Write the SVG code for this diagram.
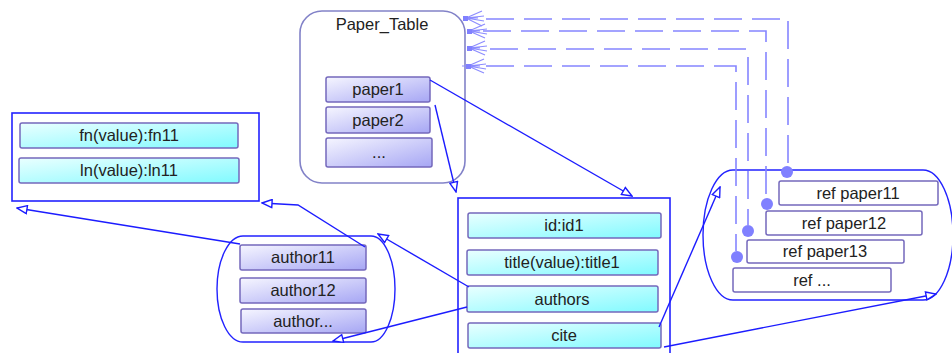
<svg xmlns="http://www.w3.org/2000/svg" width="952" height="353" viewBox="0 0 952 353">
<style>
text{font-family:"Liberation Sans",Arial,sans-serif;font-size:16.5px;fill:#222;text-anchor:middle}
.row{stroke:#7468bc;stroke-width:1.5}
.lav{fill:url(#gLav)}
.cy{fill:url(#gCy)}
.ref{fill:#fff;stroke:#7468bc;stroke-width:1.5}
.box{fill:#fff;stroke:#2222ff;stroke-width:1.6}
.blob{fill:none;stroke:#2222ff;stroke-width:1.4}
.con{fill:none;stroke:#1c1cff;stroke-width:1.4}
.dash{fill:none;stroke:#8585ff;stroke-width:1.6;stroke-dasharray:28 10}
.dot{fill:#8080ff}
.fan{stroke:#8c8cff;stroke-width:1.2;fill:none}
</style>
<defs>
<linearGradient id="gLav" x1="0" y1="0" x2="1" y2="1">
<stop offset="0" stop-color="#f6f6ff"/><stop offset="1" stop-color="#a6a6f4"/>
</linearGradient>
<linearGradient id="gCy" x1="0" y1="0" x2="1" y2="1">
<stop offset="0" stop-color="#eaffff"/><stop offset="1" stop-color="#80faff"/>
</linearGradient>
<marker id="tri" viewBox="0 0 12 10" refX="11" refY="5" markerWidth="12" markerHeight="10" markerUnits="userSpaceOnUse" orient="auto">
<path d="M1,1 L11,5 L1,9 z" fill="#fff" stroke="#1c1cff" stroke-width="1.4"/>
</marker>
</defs>

<g id="paper_table">
<rect x="300" y="11" width="165" height="172" rx="22" fill="#fff" stroke="#8282c8" stroke-width="1.6"/>
<text x="382" y="30">Paper_Table</text>
<rect class="row lav" x="326" y="77" width="104" height="25" rx="2"/>
<text x="378" y="95">paper1</text>
<rect class="row lav" x="326" y="107" width="104" height="26" rx="2"/>
<text x="378" y="126">paper2</text>
<rect class="row lav" x="326" y="138" width="106" height="29" rx="2"/>
<text x="379" y="158">...</text>
</g>

<g id="name_box">
<rect class="box" x="12" y="113" width="247" height="88"/>
<rect class="row cy" x="20" y="123" width="218" height="25" rx="2"/>
<text x="129" y="141">fn(value):fn11</text>
<rect class="row cy" x="19" y="158" width="220" height="25" rx="2"/>
<text x="129" y="176">ln(value):ln11</text>
</g>

<g id="paper_box">
<rect class="box" x="458" y="198" width="212" height="170"/>
<rect class="row cy" x="468" y="213" width="193" height="25" rx="2"/>
<text x="564" y="231">id:id1</text>
<rect class="row cy" x="467" y="250" width="191" height="25" rx="2"/>
<text x="562" y="268">title(value):title1</text>
<rect class="row cy" x="467" y="286" width="191" height="26" rx="2"/>
<text x="562" y="305">authors</text>
<rect class="row cy" x="468" y="323" width="193" height="25" rx="2"/>
<text x="564" y="341">cite</text>
</g>

<g id="authors">
<path class="blob" d="M243,236 H371 A24,53 0 0 1 371,342 H243 A26,53 0 0 1 243,236 Z"/>
<rect class="row lav" x="240" y="245" width="126" height="25" rx="2"/>
<text x="303" y="263">author11</text>
<rect class="row lav" x="240" y="278" width="126" height="25" rx="2"/>
<text x="303" y="296">author12</text>
<rect class="row lav" x="241" y="309" width="125" height="24" rx="2"/>
<text x="303" y="327">author...</text>
</g>

<g id="refs">
<path class="blob" d="M733,170 H923 A30,65 0 0 1 923,300 H733 A30,65 0 0 1 733,170 Z"/>
<rect class="ref" x="779" y="181" width="159" height="24" rx="2"/>
<text x="858" y="199">ref paper11</text>
<rect class="ref" x="766" y="211" width="156" height="24" rx="2"/>
<text x="844" y="229">ref paper12</text>
<rect class="ref" x="747" y="240" width="157" height="23" rx="2"/>
<text x="825" y="257">ref paper13</text>
<rect class="ref" x="733" y="268" width="158" height="24" rx="2"/>
<text x="812" y="286">ref ...</text>
</g>

<g id="connectors">
<path class="con" d="M430,80 L632,196" marker-end="url(#tri)"/>
<path class="con" d="M435,105 L456,192" marker-end="url(#tri)"/>
<path class="con" d="M469,287 L378,234" marker-end="url(#tri)"/>
<path class="con" d="M467,307 L333,341" marker-end="url(#tri)"/>
<path class="con" d="M365,247 L298,205 L262,203" marker-end="url(#tri)"/>
<path class="con" d="M240,244 L17,208" marker-end="url(#tri)"/>
<path class="con" d="M659,327 L720,187" marker-end="url(#tri)"/>
<path class="con" d="M664,347 L936,294" marker-end="url(#tri)"/>

<path class="dash" d="M486,19 H788 V166"/>
<path class="dash" d="M483,31 H766 V198"/>
<path class="dash" d="M490,49 H748 V225"/>
<path class="dash" d="M486,66 H736 V251"/>
<circle class="dot" cx="787" cy="172" r="6"/>
<circle class="dot" cx="767" cy="204" r="6"/>
<circle class="dot" cx="748" cy="231" r="6"/>
<circle class="dot" cx="737" cy="257" r="6"/>

<g class="fan">
<path d="M466,18 L482,11 M466,18 L484,16 M466,18 L484,21 M466,18 L482,26 M466,18 H478"/>
<path d="M469,31 L485,24 M469,31 L487,29 M469,31 L487,34 M469,31 L485,38 M469,31 H480"/>
<path d="M469,48 L485,41 M469,48 L487,46 M469,48 L487,51 M469,48 L485,55 M469,48 H480"/>
<path d="M468,66 L484,59 M468,66 L486,64 M468,66 L486,69 M468,66 L484,73 M462,66 H480"/>
</g>
<rect x="467" y="29" width="5" height="5" fill="#8080ff"/>
<rect x="467" y="46" width="5" height="5" fill="#8080ff"/>
<rect x="466" y="64" width="5" height="5" fill="#8080ff"/>
<rect x="463" y="16" width="5" height="5" fill="#8080ff"/>
</g>
</svg>
